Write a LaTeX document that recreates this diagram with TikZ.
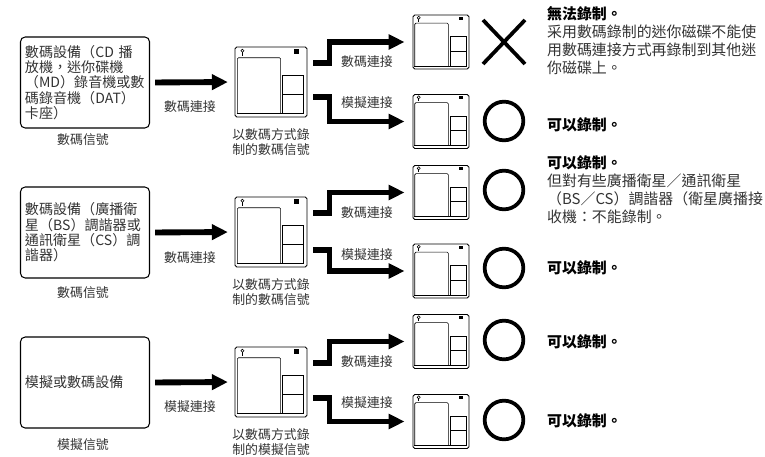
\documentclass[tikz,border=0pt]{standalone}
\usepackage{fontspec}
\setmainfont{Noto Sans CJK TC}
\usepackage{tikz}
\usetikzlibrary{arrows.meta,calc}

% recorder icon: name, x, y, width, height
\newcommand{\mdunit}[5]{%
  \node[dev, minimum width=#4, minimum height=#5] (#1) at (#2,#3) {};
  \begin{scope}[shift={(#1.north west)}, x=#4, y=-#5, line width=0.5pt]
    \draw (0.03,0.95) -- (0.97,0.95);
    \draw[rounded corners=1pt] (0.04,0.95) -- (0.04,0.16) -- (0.64,0.16) -- (0.64,0.95);
    \draw (0.67,0.41) rectangle (0.96,0.68);
    \draw (0.67,0.68) rectangle (0.96,0.95);
    \draw (0.11,0.06) circle (1.3pt);
    \draw (0.11,0.085) -- (0.11,0.13);
    \fill (0.83,0.04) rectangle (0.9,0.1);
  \end{scope}}

\begin{document}
\begin{tikzpicture}[x=0.03cm, y=-0.03cm,
  src/.style={draw, rounded corners=4pt, line width=0.9pt, text width=3.6cm, inner xsep=0.135cm,
    minimum height=2.73cm, align=left, font=\fontsize{12}{13}\selectfont, text=black!80},
  dev/.style={draw, rounded corners=1.5pt, line width=0.8pt, inner sep=0pt},
  lbl/.style={font=\fontsize{11}{12.75}\selectfont, text=black!80, align=center},
  feed/.style={line width=5pt, -{Triangle[length=4.8mm,width=4.5mm]}, shorten <=1.5mm, shorten >=2mm},
  fat/.style={line width=4.5pt, -{Triangle[length=4.8mm,width=4.4mm]}, shorten >=2.4mm},
  note/.style={anchor=west, align=left, font=\fontsize{12.75}{15.3}\selectfont, text=black!80},
  okay/.style={anchor=west, font=\fontsize{12.75}{15.3}\selectfont\bfseries},
  yes/.style={circle, draw, line width=3.2pt, minimum size=1.16cm, inner sep=0pt}]
\useasboundingbox (0,0) rectangle (765,457);

% row 1
\node[src] (b1) at (85,82.5) {數碼設備（CD 播\\放機，迷你碟機\\（MD）錄音機或數\\碼錄音機（DAT）\\卡座）};
\node[lbl] (s1) at (83,140) {數碼信號};
\mdunit{d1}{271}{82}{2.16cm}{2.1cm}
\node[lbl] (c1) at (271,142.5) {以數碼方式錄\\制的數碼信號};
\draw[feed] (b1.east) -- (d1.west);
\node[lbl] (k1) at (190,107) {數碼連接};
\mdunit{t1a}{441}{42}{1.68cm}{1.62cm}
\mdunit{t1b}{441}{121.5}{1.68cm}{1.62cm}
\draw[fat] ($(d1.east)+(6,-19)$) -- ++(16,0) |- (t1a.west);
\draw[fat] ($(d1.east)+(6,15)$) -- ++(16,0) |- (t1b.west);
\node[lbl] (g1a) at (367,62) {數碼連接};
\node[lbl] (g1b) at (367,103) {模擬連接};
\node (x1) at (504,42) {};
\draw[line width=3.2pt] ($(x1)+(-21,-22)$) -- ($(x1)+(21,22)$) ($(x1)+(-21,22)$) -- ($(x1)+(21,-22)$);
\node[yes] (o1) at (504,121) {};
\node[note] (n1a) at (543,40.5) {{\color{black}\bfseries 無法錄制。}\\采用數碼錄制的迷你磁碟不能使\\用數碼連接方式再錄制到其他迷\\你磁碟上。};
\node[okay] (n1b) at (543,125) {可以錄制。};

% row 2
\node[src] (b2) at (85,232.5) {數碼設備（廣播衛\\星（BS）調諧器或\\通訊衛星（CS）調\\諧器）};
\node[lbl] (s2) at (83,293) {數碼信號};
\mdunit{d2}{271}{232}{2.16cm}{2.1cm}
\node[lbl] (c2) at (271,292.5) {以數碼方式錄\\制的數碼信號};
\draw[feed] (b2.east) -- (d2.west);
\node[lbl] (k2) at (190,258) {數碼連接};
\mdunit{t2a}{441}{192.5}{1.68cm}{1.62cm}
\mdunit{t2b}{441}{271}{1.68cm}{1.62cm}
\draw[fat] ($(d2.east)+(6,-19)$) -- ++(16,0) |- (t2a.west);
\draw[fat] ($(d2.east)+(6,18)$) -- ++(16,0) |- (t2b.west);
\node[lbl] (g2a) at (367,213) {數碼連接};
\node[lbl] (g2b) at (367,255) {模擬連接};
\node[yes] (o2a) at (504,190) {};
\node[yes] (o2b) at (504,268) {};
\node[note] (n2a) at (543,190) {{\color{black}\bfseries 可以錄制。}\\但對有些廣播衛星／通訊衛星\\（BS／CS）調諧器（衛星廣播接\\收機：不能錄制。};
\node[okay] (n2b) at (543,268) {可以錄制。};

% row 3
\node[src] (b3) at (85,382.5) {模擬或數碼設備};
\node[lbl] (s3) at (83,445) {模擬信號};
\mdunit{d3}{271}{382}{2.16cm}{2.1cm}
\node[lbl] (c3) at (271,442.5) {以數碼方式錄\\制的模擬信號};
\draw[feed] (b3.east) -- (d3.west);
\node[lbl] (k3) at (190,407) {模擬連接};
\mdunit{t3a}{441}{341.5}{1.68cm}{1.62cm}
\mdunit{t3b}{441}{421.5}{1.68cm}{1.62cm}
\draw[fat] ($(d3.east)+(6,-19)$) -- ++(16,0) |- (t3a.west);
\draw[fat] ($(d3.east)+(6,16)$) -- ++(16,0) |- (t3b.west);
\node[lbl] (g3a) at (367,362) {數碼連接};
\node[lbl] (g3b) at (367,403) {模擬連接};
\node[yes] (o3a) at (504,340) {};
\node[yes] (o3b) at (504,420) {};
\node[okay] (n3a) at (543,342) {可以錄制。};
\node[okay] (n3b) at (543,421) {可以錄制。};
\end{tikzpicture}
\end{document}
